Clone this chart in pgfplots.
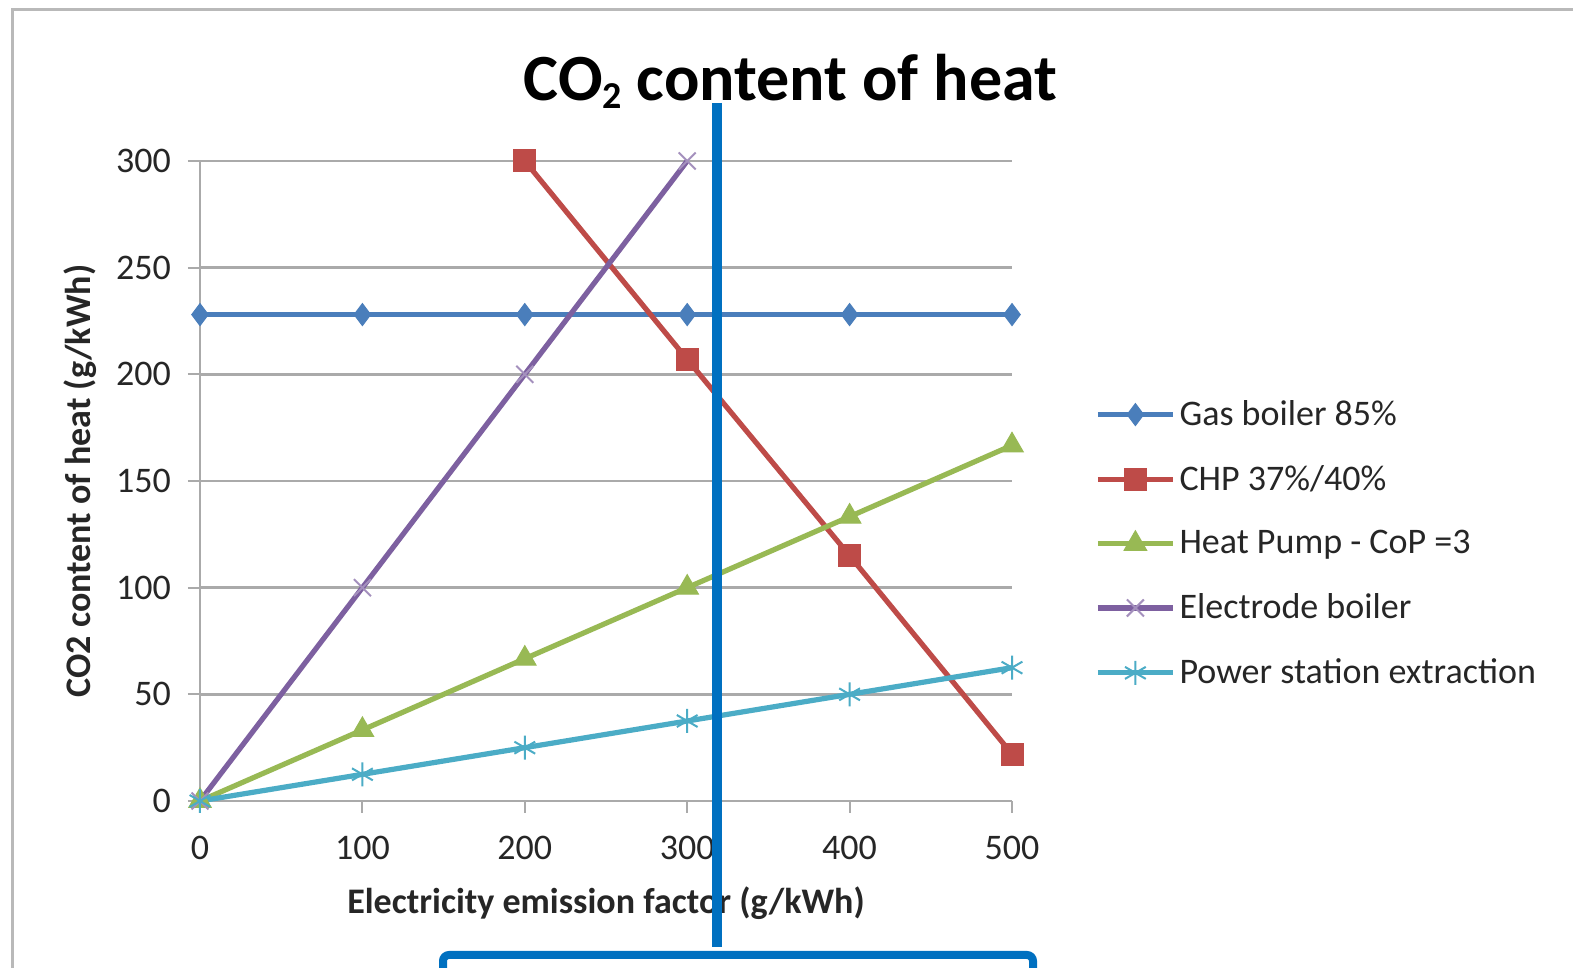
\documentclass[border=0pt]{standalone}
\usepackage{pgfplots}
\pgfplotsset{compat=1.18}
\usepackage{fontspec}
\setmainfont{Carlito}

\definecolor{gasblue}{RGB}{74,126,187}
\definecolor{chpred}{RGB}{190,75,72}
\definecolor{hpgreen}{RGB}{152,185,84}
\definecolor{elpurple}{RGB}{125,96,160}
\definecolor{pscyan}{RGB}{75,172,198}
\definecolor{gridgray}{RGB}{170,170,170}
\definecolor{ovblue}{RGB}{0,112,192}

\begin{document}
\begin{tikzpicture}[x=1pt,y=1pt]
\useasboundingbox (0,0) rectangle (786.5,484);
\fill[white] (0,0) rectangle (786.5,484);
\draw[gray!55, line width=1.5pt] (6,-10) -- (6,479) -- (800,479);
\begin{axis}[
  at={(100pt,83.5pt)}, anchor=south west,
  scale only axis, width=406pt, height=320pt,
  xmin=0, xmax=500, ymin=0, ymax=300,
  xtick={0,100,...,500}, ytick={0,50,...,300},
  axis lines*=left,
  axis line style={gridgray, line width=1.2pt},
  tick align=outside, major tick length=6pt,
  tick style={gridgray, line width=1pt},
  ymajorgrids, grid style={gridgray, line width=1.2pt},
  clip=false,
  /pgf/number format/assume math mode=true,
  tick label style={font=\fontsize{18}{18}\selectfont, text=black!85},
  yticklabel style={xshift=-5pt},
  xticklabel style={yshift=-8pt},
  xlabel={\bfseries Electricity emission factor (g/kWh)},
  xlabel style={font=\fontsize{18}{18}\selectfont, text=black!85, at={(axis description cs:0.5,-0.16)}, anchor=center},
  ylabel={\bfseries CO2 content of heat (g/kWh)},
  ylabel style={font=\fontsize{18}{18}\selectfont, text=black!85, at={(axis description cs:-0.147,0.5)}, anchor=center},
  title={\bfseries CO{\fontsize{19}{19}\selectfont\raisebox{-4pt}{2}} content of heat},
  title style={font=\fontsize{33}{33}\selectfont, at={(axis description cs:0.727,1.076)}, anchor=base},
  legend style={at={(rel axis cs:1.102,0.402)}, anchor=west, draw=none, fill=none,
    font=\fontsize{18}{18}\selectfont, text=black!85, row sep=14.5pt, inner sep=0pt},
  legend cell align=left,
  legend image code/.code={\draw[mark repeat=2,mark phase=2,#1] plot coordinates {(0cm,0cm) (0.66cm,0cm) (1.32cm,0cm)};},
  every axis plot/.append style={line width=2.6pt},
]
\addplot[gasblue, mark=diamond*, mark size=5.5pt, mark options={line width=0.5pt}] coordinates {(0,228) (100,228) (200,228) (300,228) (400,228) (500,228)};
\addlegendentry{Gas boiler 85\%}
\addplot[chpred, mark=square*, mark size=5.5pt, mark options={line width=0.5pt}] coordinates {(200,300) (300,207) (400,115) (500,22)};
\addlegendentry{CHP 37\%/40\%}
\addplot[hpgreen, mark=triangle*, mark size=6.5pt, mark options={line width=0.5pt}] coordinates {(0,0) (100,33.3) (200,66.7) (300,100) (400,133.3) (500,166.7)};
\addlegendentry{Heat Pump - CoP =3}
\addplot[elpurple, mark=x, mark size=6pt, mark options={line width=1pt, color=elpurple!70}] coordinates {(0,0) (100,100) (200,200) (300,300)};
\addlegendentry{Electrode boiler}
\addplot[pscyan, mark=asterisk, mark size=6pt, mark options={line width=1pt}] coordinates {(0,0) (100,12.5) (200,25) (300,37.5) (400,50) (500,62.5)};
\addlegendentry{Power station extraction}
\end{axis}
\draw[ovblue, line width=5pt] (358.5,432.5) -- (358.5,10.5);
\draw[ovblue, line width=4pt, rounded corners=3pt] (221.5,-20) -- (221.5,6.5) -- (516.5,6.5) -- (516.5,-20);
\end{tikzpicture}
\end{document}
